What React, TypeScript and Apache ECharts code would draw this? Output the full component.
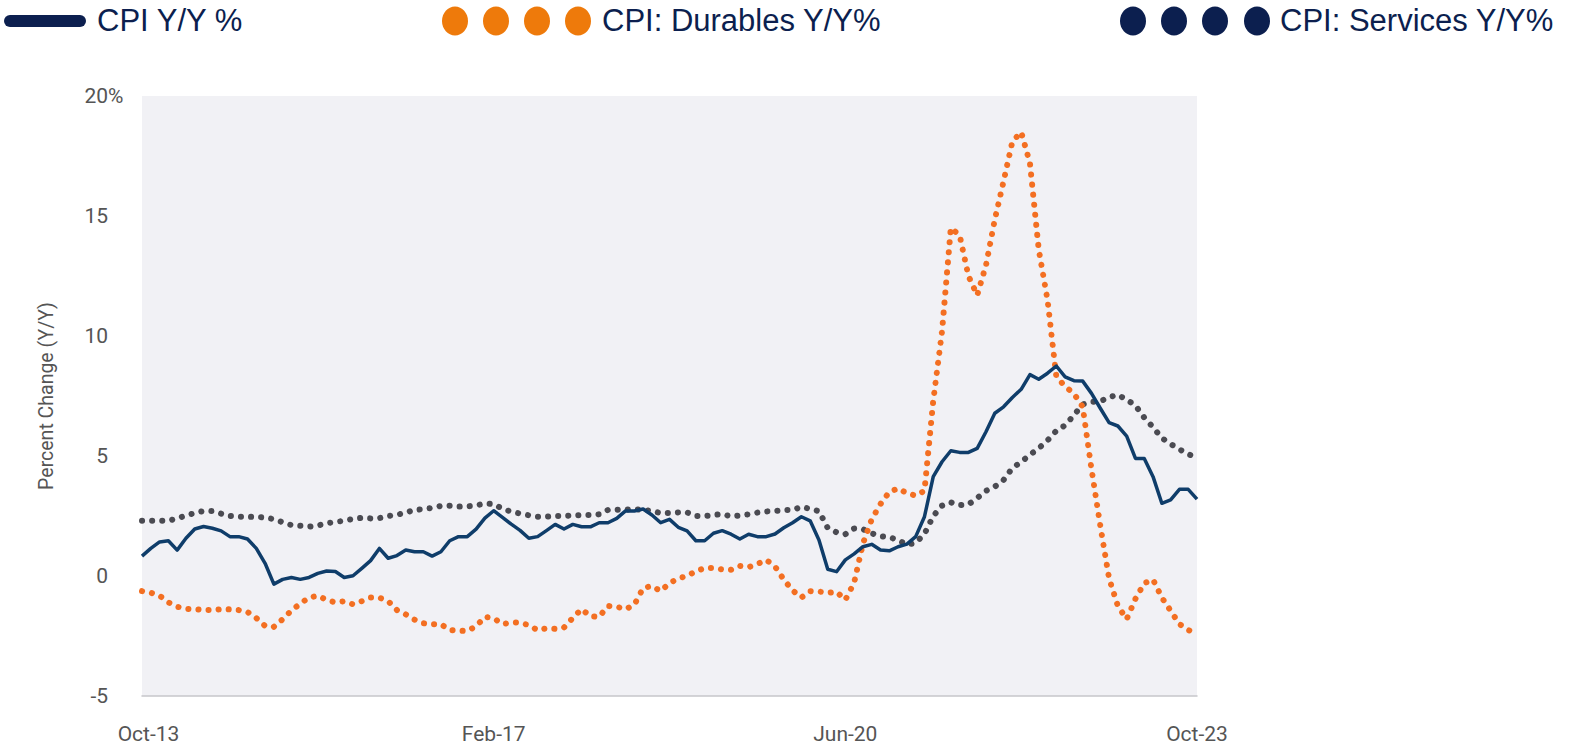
import React, { useEffect, useRef } from "react";
import * as echarts from "echarts";

const MONTHS = ["Jan", "Feb", "Mar", "Apr", "May", "Jun", "Jul", "Aug", "Sep", "Oct", "Nov", "Dec"];
// Monthly categories Oct-13 .. Oct-23 (121 months)
const categories: string[] = [];
for (let k = 0; k < 121; k++) {
  const m = (9 + k) % 12;
  const y = 13 + Math.floor((9 + k) / 12);
  categories.push(`${MONTHS[m]}-${String(y).padStart(2, "0")}`);
}

const yTicks = [-5, 0, 5, 10, 15, 20];

const cpi = [
  0.83, 1.15, 1.42, 1.47, 1.08, 1.57, 1.96, 2.06, 1.99, 1.88,
  1.64, 1.64, 1.54, 1.15, 0.53, -0.34, -0.14, -0.06, -0.14, -0.06,
  0.11, 0.21, 0.19, -0.06, 0.01, 0.32, 0.64, 1.15, 0.74, 0.85,
  1.08, 1.01, 1.01, 0.83, 1.01, 1.47, 1.64, 1.64, 1.95, 2.41,
  2.72, 2.44, 2.16, 1.9, 1.57, 1.64, 1.89, 2.15, 1.96, 2.15,
  2.05, 2.05, 2.22, 2.22, 2.4, 2.71, 2.71, 2.79, 2.54, 2.22,
  2.36, 2.03, 1.88, 1.47, 1.47, 1.78, 1.89, 1.74, 1.54, 1.74,
  1.64, 1.64, 1.75, 2.01, 2.22, 2.47, 2.3, 1.5, 0.28, 0.18,
  0.67, 0.92, 1.22, 1.32, 1.08, 1.05, 1.22, 1.33, 1.64, 2.47,
  4.14, 4.76, 5.22, 5.15, 5.15, 5.32, 6.01, 6.78, 7.05, 7.44,
  7.78, 8.39, 8.2, 8.45, 8.75, 8.3, 8.14, 8.12, 7.61, 6.99,
  6.39, 6.25, 5.83, 4.9, 4.9, 4.14, 3.03, 3.17, 3.61, 3.61,
  3.2,
];

const durables = [
  -0.63, -0.7, -0.82, -1.1, -1.28, -1.37, -1.38, -1.42, -1.42, -1.38,
  -1.39, -1.42, -1.5, -1.75, -2.08, -2.12, -1.8, -1.44, -1.15, -0.9,
  -0.82, -1.0, -1.1, -1.05, -1.18, -1.05, -0.9, -0.9, -1.05, -1.42,
  -1.6, -1.82, -1.97, -2.01, -2.01, -2.25, -2.28, -2.29, -2.1, -1.7,
  -1.76, -2.0, -1.94, -1.94, -2.05, -2.26, -2.18, -2.2, -2.15, -1.75,
  -1.38, -1.68, -1.7, -1.25, -1.28, -1.39, -1.2, -0.5, -0.42, -0.63,
  -0.3, -0.1, 0.0, 0.2, 0.33, 0.33, 0.27, 0.26, 0.42, 0.37,
  0.5, 0.67, 0.4, -0.15, -0.6, -0.9, -0.63, -0.65, -0.7, -0.66,
  -1.0, -0.28, 1.35, 2.36, 3.0, 3.5, 3.65, 3.45, 3.35, 3.55,
  7.3, 10.2, 14.5, 14.2, 12.5, 11.7, 12.95, 14.85, 16.45, 18.1,
  18.5, 17.2, 13.6, 11.5, 8.3, 7.9, 7.6, 7.05, 4.45, 2.1,
  -0.1, -1.25, -1.8, -0.95, -0.3, -0.15, -0.9, -1.45, -2.0, -2.25,
  -2.4,
];

const services = [
  2.3, 2.3, 2.3, 2.3, 2.4, 2.52, 2.62, 2.71, 2.71, 2.6,
  2.5, 2.47, 2.47, 2.46, 2.44, 2.37, 2.24, 2.12, 2.09, 2.06,
  2.1, 2.2, 2.25, 2.3, 2.38, 2.42, 2.4, 2.41, 2.5, 2.55,
  2.64, 2.76, 2.78, 2.84, 2.92, 2.93, 2.89, 2.9, 2.94, 3.02,
  3.0, 2.8, 2.68, 2.6, 2.53, 2.47, 2.47, 2.5, 2.5, 2.53,
  2.54, 2.54, 2.57, 2.75, 2.76, 2.77, 2.78, 2.76, 2.71, 2.62,
  2.63, 2.65, 2.65, 2.5, 2.5, 2.54, 2.58, 2.48, 2.52, 2.57,
  2.64, 2.69, 2.71, 2.75, 2.75, 2.88, 2.8, 2.7, 2.0, 1.82,
  1.74, 1.98, 1.95, 1.78, 1.66, 1.62, 1.5, 1.3, 1.38, 1.75,
  2.5, 2.93, 3.07, 2.95, 2.98, 3.25, 3.55, 3.72, 4.0, 4.5,
  4.75, 5.05, 5.32, 5.65, 6.05, 6.28, 6.7, 7.15, 7.25, 7.28,
  7.45, 7.55, 7.35, 7.1, 6.6, 6.2, 5.75, 5.5, 5.28, 5.08,
  4.92,
];

const seriesNames = ["CPI Y/Y %", "CPI: Durables Y/Y%", "CPI: Services Y/Y%"];

const NAVY_TEXT = "#0c1f4f";
const CPI_COLOR = "#0f3d6a";
const DUR_COLOR = "#f36f22";
const SERV_COLOR = "#4b4b52";
const LEG_ORANGE = "#ee7a0b";
const AXIS_TEXT = "#555555";
const TICK_FONT = 21;

export default function App() {
  const ref = useRef<HTMLDivElement>(null);
  useEffect(() => {
    if (!ref.current) return;
    const chart = echarts.init(ref.current, undefined, { renderer: "svg" });
    const textStyle = (text: string) => ({
      text,
      fill: NAVY_TEXT,
      fontSize: 31,
      fontFamily: '"Liberation Sans", Arial, sans-serif',
      verticalAlign: "middle",
      align: "left",
    });
    const graphic: any[] = [
      { id: "legLine", type: "rect", shape: { x: 4, y: 15, width: 82, height: 12, r: 6 }, style: { fill: NAVY_TEXT } },
      { id: "legText0", type: "text", x: 97, y: 20, style: textStyle(seriesNames[0]) },
      ...[455, 496, 537, 578].map((cx, k) => ({ id: "legO" + k, type: "ellipse", shape: { cx, cy: 21, rx: 13, ry: 14.5 }, style: { fill: LEG_ORANGE } })),
      { id: "legText1", type: "text", x: 602, y: 20, style: textStyle(seriesNames[1]) },
      ...[1133, 1174, 1215, 1257].map((cx, k) => ({ id: "legN" + k, type: "ellipse", shape: { cx, cy: 21, rx: 13, ry: 14.5 }, style: { fill: NAVY_TEXT } })),
      { id: "legText2", type: "text", x: 1280, y: 20, style: textStyle(seriesNames[2]) },
      { id: "pct", type: "text", x: 108, y: 96, style: { text: "%", fontSize: TICK_FONT, fontFamily: "Roboto, sans-serif", fill: AXIS_TEXT, verticalAlign: "middle" } },
    ];
    chart.setOption({
      animation: false,
      backgroundColor: "#ffffff",
      grid: {
        left: 142,
        right: 374,
        top: 96,
        bottom: 51,
        show: true,
        backgroundColor: "#f1f1f5",
        borderWidth: 0,
      },
      graphic: { elements: graphic },
      xAxis: {
        type: "category",
        data: categories,
        boundaryGap: false,
        axisLine: { show: true, onZero: false, lineStyle: { color: "#c6c6ca", width: 1.5 } },
        axisTick: { show: false },
        axisLabel: {
          interval: 39,
          color: AXIS_TEXT,
          fontFamily: "Roboto, sans-serif",
          fontSize: TICK_FONT,
          margin: 27,
          showMinLabel: true,
          showMaxLabel: true,
          formatter: (v: string, idx: number) => (idx === 0 ? `{first|${v}}` : v),
          rich: {
            first: {
              color: AXIS_TEXT,
              fontFamily: "Roboto, sans-serif",
              fontSize: TICK_FONT,
              padding: [0, 0, 0, 13],
            },
          },
        },
        splitLine: { show: false },
      },
      yAxis: {
        type: "value",
        min: yTicks[0],
        max: yTicks[yTicks.length - 1],
        interval: 5,
        axisLine: { show: false },
        axisTick: { show: false },
        splitLine: { show: false },
        axisLabel: {
          color: AXIS_TEXT,
          fontFamily: "Roboto, sans-serif",
          fontSize: TICK_FONT,
          margin: 34,
          formatter: (v: number) => String(v),
        },
        name: "Percent Change (Y/Y)",
        nameLocation: "middle",
        nameGap: 86,
        nameTextStyle: { color: AXIS_TEXT, fontFamily: "Roboto, sans-serif", fontSize: 19.5 },
      },
      series: [
        {
          name: seriesNames[0],
          type: "line",
          data: cpi,
          symbol: "none",
          lineStyle: { color: CPI_COLOR, width: 3.5, join: "round" },
          z: 3,
        },
        {
          name: seriesNames[1],
          type: "line",
          data: durables,
          symbol: "none",
          lineStyle: { color: DUR_COLOR, width: 6, type: [0.1, 10], cap: "round" },
          z: 2,
        },
        {
          name: seriesNames[2],
          type: "line",
          data: services,
          symbol: "none",
          lineStyle: { color: SERV_COLOR, width: 6, type: [0.1, 10], cap: "round" },
          z: 1,
        },
      ],
    });
    return () => chart.dispose();
  }, []);
  return <div ref={ref} style={{ position: "fixed", left: 0, top: 0, width: 1571, height: 747 }} />;
}
